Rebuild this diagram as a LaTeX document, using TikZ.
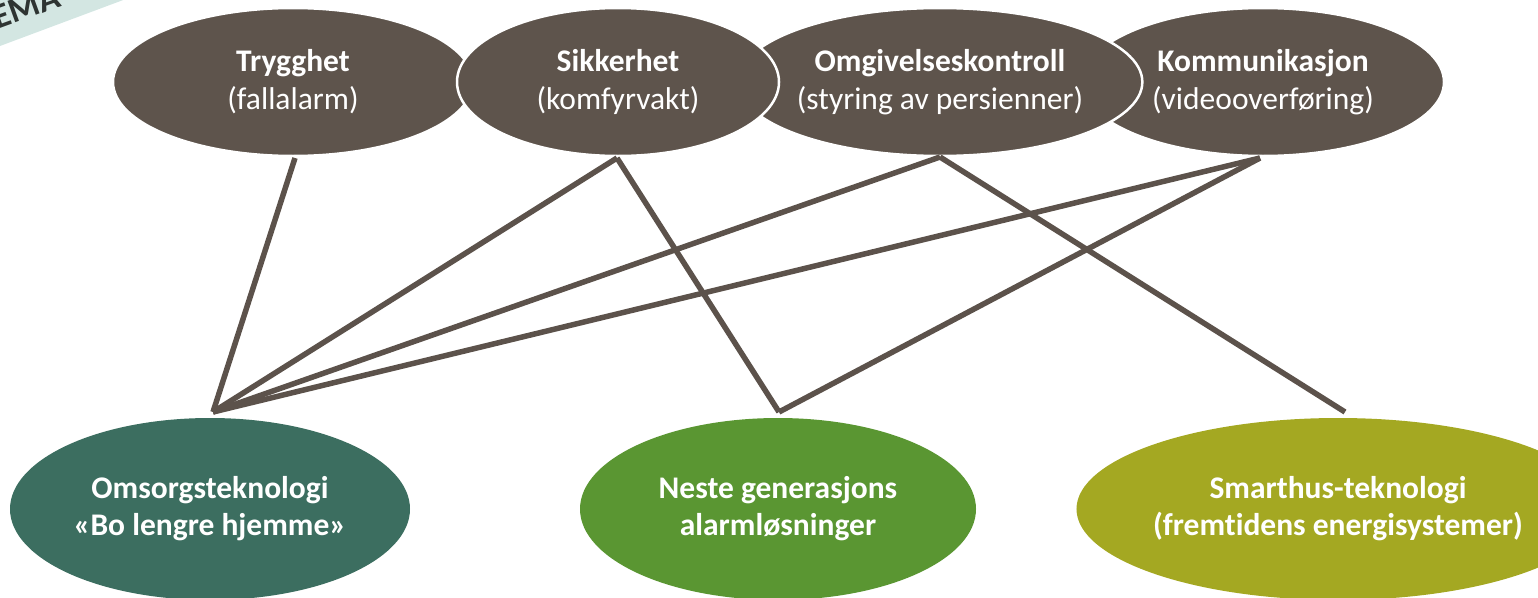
\documentclass[tikz,border=0pt]{standalone}
\usepackage{fontspec}
\setmainfont{Carlito}[Ligatures=NoCommon]
\usetikzlibrary{shapes.geometric}

\definecolor{taupe}{HTML}{5E544C}
\definecolor{linkcol}{HTML}{5C524B}
\definecolor{careteal}{HTML}{3C6E60}
\definecolor{alarmgreen}{HTML}{5A9632}
\definecolor{smartolive}{HTML}{A4A822}
\definecolor{stampbg}{HTML}{D3E6E2}
\definecolor{stampink}{HTML}{2E3432}

\tikzset{
  topell/.style={ellipse, fill=taupe, draw=white, line width=2.5pt,
    inner sep=0pt, align=center, text=white, font=\fontsize{31.5}{38}\selectfont},
  botell/.style={ellipse, inner sep=0pt, align=center, text=white,
    minimum width=400pt, minimum height=182pt,
    font=\fontsize{31.5}{37}\selectfont\bfseries},
  link/.style={draw=linkcol, line width=5.5pt},
}

\begin{document}
\begin{tikzpicture}[x=1pt, y=-1pt]
  \useasboundingbox (0,0) rectangle (1538,597);
  \begin{scope}
    \clip (0,0) rectangle (1538,597);

    % corner stamp
    \fill[stampbg] (-10,-10) -- (150,-10) -- (0,46) -- (-10,50) -- cycle;
    \node[rotate=20, text=stampink, font=\fontsize{35}{35}\selectfont\bfseries]
      (stamp) at (18,10) {TEMA};

    % application areas (top row), drawn in stacking order
    \node[topell, minimum width=360pt, minimum height=148pt] (tryg) at (293,82)
      {\textbf{Trygghet}\\(fallalarm)};
    \node[topell, minimum width=362pt, minimum height=148pt] (komm) at (1263,82)
      {\textbf{Kommunikasjon}\\(videooverføring)};
    \node[topell, minimum width=330pt, minimum height=148pt] (omg) at (940,82)
      {\textbf{Omgivelseskontroll}\\(styring av persienner)};
    \node[topell, minimum width=322pt, minimum height=148pt] (sikk) at (618,82)
      {\textbf{Sikkerhet}\\(komfyrvakt)};

    % technology fields (bottom row)
    \node[botell, fill=careteal] (omsorg) at (210,509)
      {Omsorgsteknologi\\«Bo lengre hjemme»};
    \node[botell, fill=alarmgreen, minimum width=396pt] (neste) at (778,509)
      {Neste generasjons\\alarmløsninger};
    \node[botell, fill=smartolive, minimum width=396pt] (smart) at (1338,509)
      {Smarthus-teknologi\\(fremtidens energisystemer)};

    % link end points just outside the ellipses
    \coordinate (trygS) at (295,158);
    \coordinate (sikkS) at (617,158);
    \coordinate (omgS)  at (940,157);
    \coordinate (kommS) at (1260,158);
    \coordinate (omsorgN) at (213,412);
    \coordinate (nesteN)  at (779,412);
    \coordinate (smartN)  at (1345,412);

    % links
    \draw[link] (trygS) -- (omsorgN);
    \draw[link] (sikkS) -- (omsorgN);
    \draw[link] (sikkS) -- (nesteN);
    \draw[link] (omgS)  -- (omsorgN);
    \draw[link] (omgS)  -- (smartN);
    \draw[link] (kommS) -- (omsorgN);
    \draw[link] (kommS) -- (nesteN);
  \end{scope}
\end{tikzpicture}
\end{document}
